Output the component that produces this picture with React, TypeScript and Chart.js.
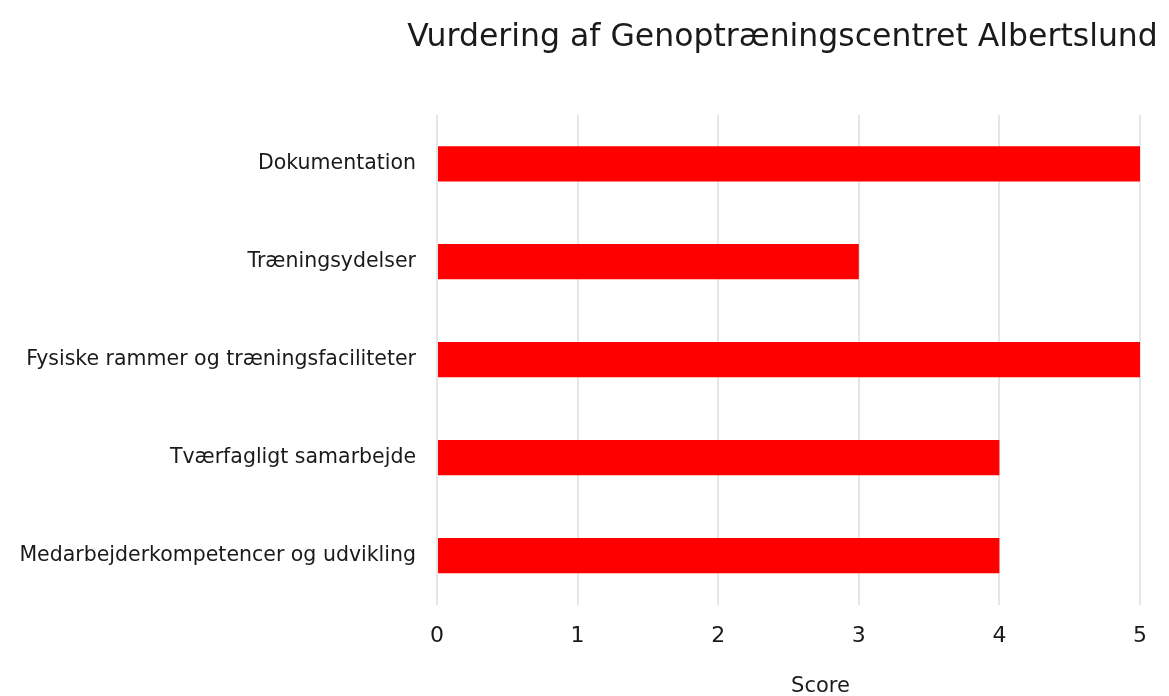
import React, { useEffect, useRef } from "react";
import { Chart, registerables } from "chart.js";

Chart.register(...registerables);

const categories = [
  "Dokumentation",
  "Træningsydelser",
  "Fysiske rammer og træningsfaciliteter",
  "Tværfagligt samarbejde",
  "Medarbejderkompetencer og udvikling",
];
const scores = [5, 3, 5, 4, 4];
const titleText = "Vurdering af Genoptræningscentret Albertslund";
const xAxisTitle = "Score";

const FONT = "'DejaVu Sans', sans-serif";
const TEXT_COLOR = "#1a1a1a";

// widen the title box (so the text is not squeezed to the plot width) and
// draw the x-axis title slightly right of the plot centre, as in the reference
const layoutPlugin = {
  id: "layoutTweaks",
  afterLayout(chart: any) {
    const t = chart.titleBlock;
    const area = chart.chartArea;
    if (t && area) {
      t.left = area.left - 40;
      t.right = area.right + 28;
      t.width = t.right - t.left;
    }
  },
  afterDraw(chart: any) {
    const { ctx, chartArea } = chart;
    ctx.save();
    ctx.font = `21px ${FONT}`;
    ctx.fillStyle = TEXT_COLOR;
    ctx.textAlign = "center";
    ctx.textBaseline = "middle";
    const cx = (chartArea.left + chartArea.right) / 2 + 32;
    ctx.fillText(xAxisTitle, cx, chart.height - 9);
    ctx.restore();
  },
};

export default function App() {
  const ref = useRef<HTMLCanvasElement | null>(null);

  useEffect(() => {
    document.body.style.margin = "0";
    const canvas = ref.current;
    if (!canvas) return;
    const chart = new Chart(canvas, {
      type: "bar",
      data: {
        labels: categories,
        datasets: [
          {
            label: xAxisTitle,
            data: scores,
            backgroundColor: "#ff0000",
            borderWidth: 0,
            categoryPercentage: 0.4,
            barPercentage: 0.9,
          },
        ],
      },
      options: {
        indexAxis: "y",
        responsive: false,
        animation: false,
        layout: { padding: { left: 0, right: 29, top: 0, bottom: 29 } },
        plugins: {
          legend: { display: false },
          tooltip: { enabled: false },
          title: {
            display: true,
            text: titleText,
            fullSize: false,
            color: TEXT_COLOR,
            font: { family: FONT, size: 31.5, weight: "normal" },
            padding: { top: 19, bottom: 58 },
          },
        },
        scales: {
          x: {
            min: 0,
            max: 5,
            ticks: {
              stepSize: 1,
              color: TEXT_COLOR,
              padding: 18,
              font: { family: FONT, size: 22 },
            },
            grid: {
              display: true,
              color: "#e6e6e6",
              lineWidth: 2,
              drawTicks: false,
            },
            border: { display: false },
            title: { display: false },
          },
          y: {
            afterFit: (scale: any) => {
              scale.width = 437;
            },
            ticks: {
              color: TEXT_COLOR,
              padding: 21,
              font: { family: FONT, size: 20.5 },
            },
            grid: { display: false, drawTicks: false },
            border: { display: false },
          },
        },
      },
      plugins: [layoutPlugin],
    });
    return () => chart.destroy();
  }, []);

  return (
    <div style={{ width: 1169, height: 696, background: "#fff" }}>
      <canvas ref={ref} width={1169} height={696} />
    </div>
  );
}
